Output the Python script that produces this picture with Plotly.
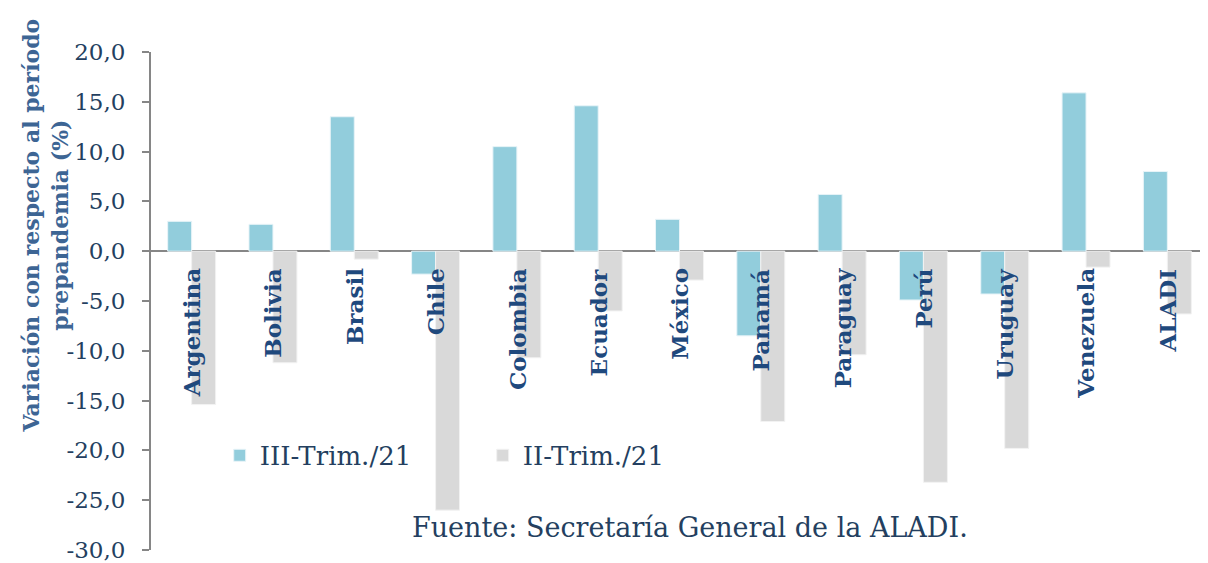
import plotly.graph_objects as go

paises = ["Argentina", "Bolivia", "Brasil", "Chile", "Colombia", "Ecuador", "México",
          "Panamá", "Paraguay", "Perú", "Uruguay", "Venezuela", "ALADI"]
trim3_21 = [3.0, 2.7, 13.5, -2.3, 10.5, 14.6, 3.2, -8.5, 5.7, -4.9, -4.3, 15.9, 8.0]
trim2_21 = [-15.4, -11.2, -0.8, -26.0, -10.7, -6.0, -2.9, -17.1, -10.4, -23.2, -19.8, -1.6, -6.3]
yticks = [20, 15, 10, 5, 0, -5, -10, -15, -20, -25, -30]
yticklabels = ["20,0", "15,0", "10,0", "5,0", "0,0", "-5,0", "-10,0", "-15,0", "-20,0", "-25,0", "-30,0"]

DARK = "#243F60"
LABEL = "#1F497D"
TITLE = "#3D6594"
SERIF = "DejaVu Serif"

fig = go.Figure()
fig.add_trace(go.Bar(x=paises, y=trim3_21, name="III-Trim./21",
                     marker=dict(color="#92CDDC", line=dict(color="#E8F4F8", width=1))))
fig.add_trace(go.Bar(x=paises, y=trim2_21, name="II-Trim./21",
                     marker=dict(color="#D9D9D9", line=dict(color="#F2F2F2", width=1))))

annotations = []
for p in paises:
    annotations.append(dict(x=p, y=0, xref="x", yref="y", text=p, showarrow=False,
                            textangle=-90, xanchor="center", yanchor="top", yshift=-15,
                            font=dict(family=SERIF, size=23, color=LABEL, weight="bold")))
annotations.append(dict(x=-0.1, y=0.652, xref="paper", yref="paper",
                        text="Variación con respecto al período<br>prepandemia (%)",
                        showarrow=False, textangle=-90, xanchor="center", yanchor="middle",
                        font=dict(family=SERIF, size=22, color=TITLE, weight="bold")))
annotations.append(dict(x=0.51, y=-27.7, xref="paper", yref="y",
                        text="Fuente: Secretaría General de la ALADI.", showarrow=False,
                        xanchor="center", yanchor="middle",
                        font=dict(family=SERIF, size=27, color=DARK)))

fig.update_layout(
    width=1200, height=555,
    margin=dict(l=143, r=0, t=44, b=13),
    plot_bgcolor="white", paper_bgcolor="white",
    barmode="group", bargap=0.41, bargroupgap=0,
    showlegend=True,
    legend=dict(orientation="h", x=0.065, y=0.19, xanchor="left", yanchor="middle",
                font=dict(family=SERIF, size=26, color=DARK), entrywidth=218,
                bgcolor="rgba(0,0,0,0)"),
    annotations=annotations,
    xaxis=dict(showticklabels=False, showline=False, showgrid=False, ticks=""),
    yaxis=dict(range=[-30, 20], tickvals=yticks, ticktext=yticklabels, showgrid=False,
               showline=True, linecolor="#868686", linewidth=2,
               ticks="outside", ticklen=7, tickcolor="#868686", tickwidth=2,
               ticklabelstandoff=12, ticklabeloverflow="allow",
               zeroline=True, zerolinecolor="#868686", zerolinewidth=2,
               tickfont=dict(family=SERIF, size=23, color=DARK)),
)

fig.write_html("out.html")
